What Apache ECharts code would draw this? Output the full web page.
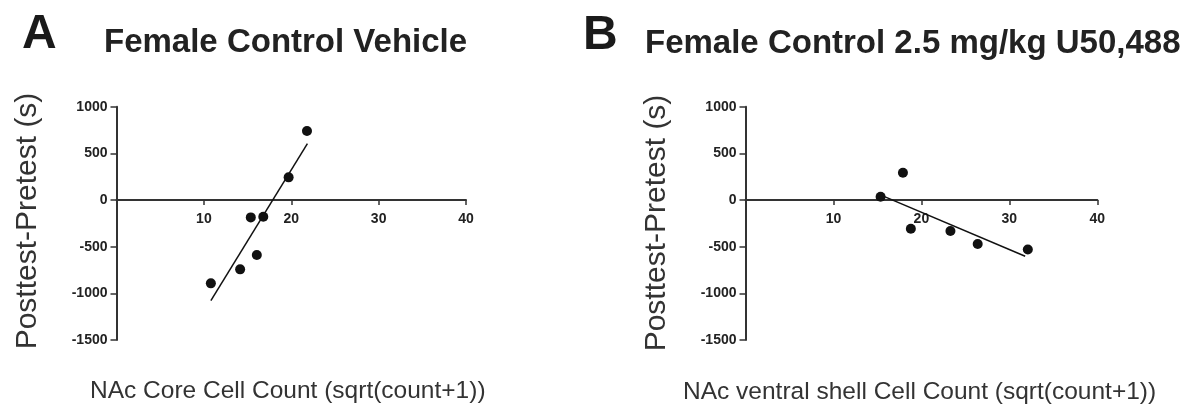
<!DOCTYPE html>
<html>
<head>
<meta charset="utf-8">
<script src="https://cdn.jsdelivr.net/npm/echarts@6/dist/echarts.min.js"></script>
<style>html,body{margin:0;padding:0;background:#fff;}#c{width:1199px;height:408px;}</style>
</head>
<body>
<div id="c"></div>
<script>
// ---- data ----
const panelATitle = 'Female Control Vehicle';
const panelBTitle = 'Female Control 2.5 mg/kg U50,488';
const yAxisTitle = 'Posttest-Pretest (s)';
const xTitleA = 'NAc Core Cell Count (sqrt(count+1))';
const xTitleB = 'NAc ventral shell Cell Count (sqrt(count+1))';

const aX = [10.8, 14.15, 15.37, 16.06, 16.8, 19.7, 21.8];
const aY = [-893, -743, -186, -589, -179, 243, 739];
const aFitX = [10.8, 21.85];
const aFitY = [-1079, 605];

const bX = [15.36, 17.9, 18.8, 23.3, 26.4, 32.1];
const bY = [35, 293, -307, -332, -471, -530];
const bFitX = [15.4, 31.8];
const bFitY = [52, -602];

const xTicks = [0, 10, 20, 30, 40];
const yTicks = [-1500, -1000, -500, 0, 500, 1000];

// ---- chart ----
const pair = (xs, ys) => xs.map((x, i) => [x, ys[i]]);
const axisColor = '#333';
const font = '"Liberation Sans", Arial, sans-serif';
const gridTop = 106.7, gridBottom = 68, H = 408;
const gridH = H - gridTop - gridBottom;
const yMin = yTicks[0], yMax = yTicks[yTicks.length - 1];
// move the x axis up to where y = 0 sits inside the grid
const xOffset = -gridH * (0 - yMin) / (yMax - yMin);

function xAxis(gi) {
  return {
    type: 'value', gridIndex: gi, position: 'bottom', offset: xOffset,
    min: xTicks[0], max: xTicks[xTicks.length - 1], interval: xTicks[1] - xTicks[0],
    splitLine: { show: false },
    axisLine: { show: true, onZero: false, lineStyle: { color: axisColor, width: 2 } },
    axisTick: { show: true, inside: false, length: 5, lineStyle: { color: axisColor, width: 1.5 } },
    axisLabel: { margin: 12, color: '#222', fontSize: 14, fontWeight: 'bold', fontFamily: font,
      formatter: v => (v === 0 ? '' : String(v)) }
  };
}
function yAxis(gi) {
  return {
    type: 'value', gridIndex: gi,
    min: yMin, max: yMax, interval: yTicks[1] - yTicks[0],
    splitLine: { show: false },
    axisLine: { show: true, onZero: false, lineStyle: { color: axisColor, width: 2 } },
    axisTick: { show: true, inside: false, length: 6, lineStyle: { color: axisColor, width: 1.5 } },
    axisLabel: { margin: 9, color: '#222', fontSize: 14, fontWeight: 'bold', fontFamily: font,
      formatter: v => String(v) }
  };
}
function scatter(gi, data) {
  return { type: 'scatter', xAxisIndex: gi, yAxisIndex: gi, data, symbolSize: 10,
    itemStyle: { color: '#111', opacity: 1 }, silent: true, z: 3 };
}
function fit(gi, data) {
  return { type: 'line', xAxisIndex: gi, yAxisIndex: gi, data, symbol: 'none',
    lineStyle: { color: '#111', width: 1.5 }, silent: true, z: 2 };
}
function txt(x, y, text, size, weight, color, extra) {
  return Object.assign({ type: 'text', x, y,
    style: { text, fontSize: size, fontWeight: weight, fontFamily: font, fill: color,
      textAlign: 'left', textVerticalAlign: 'middle' } }, extra || {});
}

const chart = echarts.init(document.getElementById('c'), null, { renderer: 'canvas' });
chart.setOption({
  animation: false,
  backgroundColor: '#fff',
  grid: [
    { left: 116.5, right: 733, top: gridTop, bottom: gridBottom },
    { left: 745.5, right: 101.7, top: gridTop, bottom: gridBottom }
  ],
  xAxis: [xAxis(0), xAxis(1)],
  yAxis: [yAxis(0), yAxis(1)],
  series: [
    fit(0, pair(aFitX, aFitY)), scatter(0, pair(aX, aY)),
    fit(1, pair(bFitX, bFitY)), scatter(1, pair(bX, bY))
  ],
  graphic: [
    txt(22, 35, 'A', 48, 'bold', '#1a1a1a'),
    txt(104, 43, panelATitle, 33, 'bold', '#222'),
    txt(583, 36, 'B', 48, 'bold', '#1a1a1a'),
    txt(645, 44, panelBTitle, 33, 'bold', '#222'),
    { type: 'text', x: 28, y: 221, rotation: Math.PI / 2,
      style: { text: yAxisTitle, fontSize: 30, fontFamily: font, fill: '#333', textAlign: 'center', textVerticalAlign: 'middle' } },
    { type: 'text', x: 657, y: 223, rotation: Math.PI / 2,
      style: { text: yAxisTitle, fontSize: 30, fontFamily: font, fill: '#333', textAlign: 'center', textVerticalAlign: 'middle' } },
    txt(90, 391, xTitleA, 24.5, 'normal', '#333'),
    txt(683, 392, xTitleB, 24.5, 'normal', '#333')
  ]
});
</script>
</body>
</html>
